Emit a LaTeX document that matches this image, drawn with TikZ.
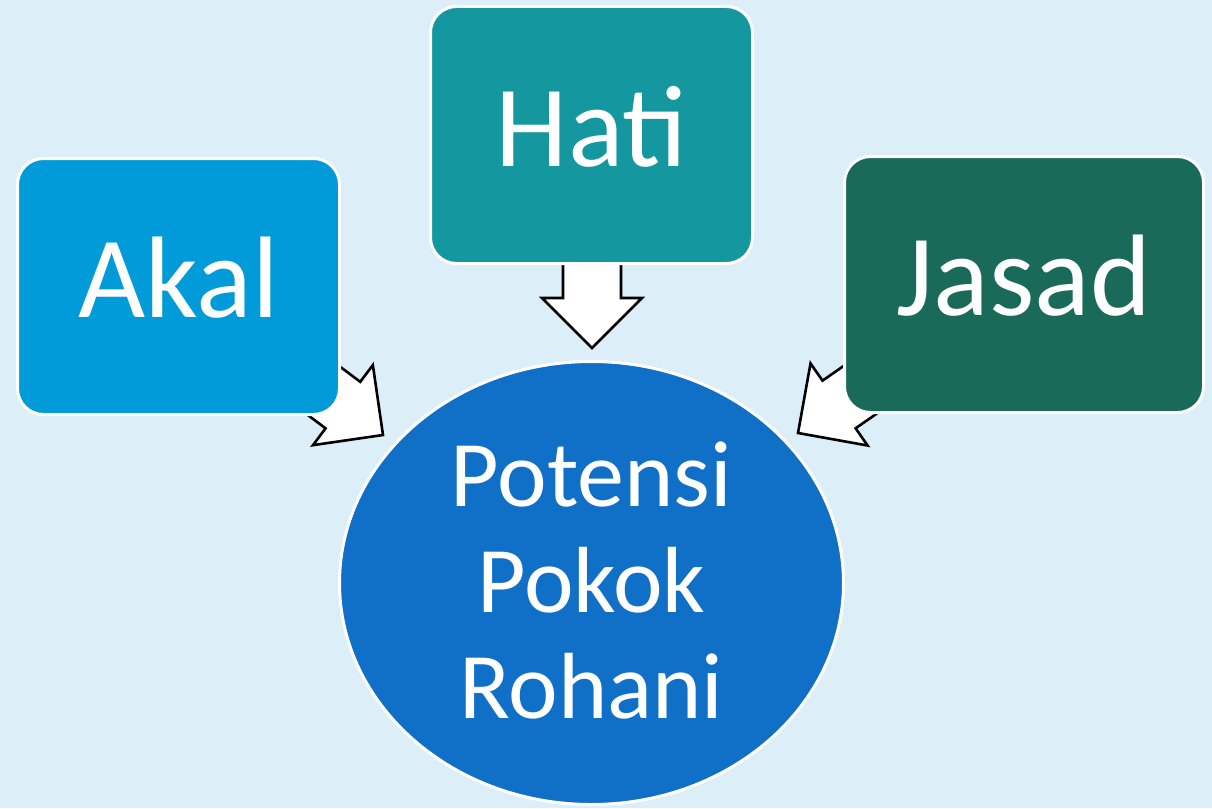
\documentclass[tikz,border=0pt]{standalone}
\usepackage{fontspec}
\setmainfont{Carlito}
\usetikzlibrary{shapes.geometric}

\definecolor{bgblue}{HTML}{DCEEF7}
\definecolor{akalblue}{HTML}{009BD8}
\definecolor{hatiteal}{HTML}{14979F}
\definecolor{jasadgreen}{HTML}{1A6A5A}
\definecolor{potblue}{HTML}{106FC6}

\tikzset{
  box/.style={draw=white, line width=3pt, rounded corners=26pt, minimum height=256pt,
    inner sep=0pt, text=white, font=\fontsize{116}{130}\selectfont,
    text height=62pt, text depth=0pt},
  blockarr/.pic={
    \draw[black, fill=white, line width=2.6pt] (0,0) -- (-50pt,50pt) -- (-50pt,29pt)
      -- (-100pt,29pt) -- (-100pt,-29pt) -- (-50pt,-29pt) -- (-50pt,-50pt) -- cycle;
  }
}

\begin{document}
\begin{tikzpicture}[x=1pt,y=-1pt]
\fill[bgblue] (0,0) rectangle (1212,808);

\node[ellipse, draw=white, line width=3pt, fill=potblue, minimum width=504pt, minimum height=443pt,
  inner sep=0pt, text=white, align=center, font=\fontsize{94}{106}\selectfont] (pot) at (591.5,583) {};
\node[text=white, align=center, font=\fontsize{94}{106}\selectfont, inner sep=0pt] (pottext)
  at ([yshift=3pt]pot.center) {Potensi\\Pokok\\Rohani};

% arrow tips
\coordinate (akaltip) at (383,435);
\coordinate (hatitip) at (592,348);
\coordinate (jasadtip) at (798,433);
\pic[rotate=-36.75] at (akaltip) {blockarr};
\pic[rotate=-90] at (hatitip) {blockarr};
\pic[rotate=-145.2] at (jasadtip) {blockarr};

\node[box, fill=akalblue, minimum width=322pt] (akal) at (178.5,286.5) {Akal};
\node[box, fill=hatiteal, minimum width=322pt, minimum height=257pt] (hati) at (591.5,135) {Hati};
\node[box, fill=jasadgreen, minimum width=359pt] (jasad) at (1024,284.5) {Jasad};
\end{tikzpicture}
\end{document}
